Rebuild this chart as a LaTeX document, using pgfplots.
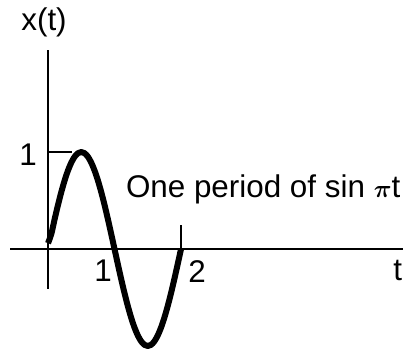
\documentclass[border=0pt]{standalone}
\usepackage{pgfplots}
\pgfplotsset{compat=1.18}
\usepackage{bm}
\usepackage{fontspec}
\setmainfont{Liberation Sans}

\begin{document}
\begin{tikzpicture}
\begin{axis}[
  x=66.5bp, y=97bp,
  axis lines=middle,
  xmin=-0.57, xmax=5.34,
  ymin=-0.41, ymax=2.05,
  ticks=none,
  clip=false,
  axis line style={line width=1.8bp, -},
  font=\fontsize{31.5}{36}\selectfont,
]
% one period of sin(pi t), sampled every 0.05
\addplot[black, line width=6bp, line join=round, smooth] coordinates {
  (0.00, 0.060) (0.05, 0.1564) (0.10, 0.3090) (0.15, 0.4540) (0.20, 0.5878)
  (0.25, 0.7071) (0.30, 0.8090) (0.35, 0.8910) (0.40, 0.9511) (0.45, 0.9877)
  (0.50, 1.0000) (0.55, 0.9877) (0.60, 0.9511) (0.65, 0.8910) (0.70, 0.8090)
  (0.75, 0.7071) (0.80, 0.5878) (0.85, 0.4540) (0.90, 0.3090) (0.95, 0.1564)
  (1.00, 0.0000) (1.05, -0.1564) (1.10, -0.3090) (1.15, -0.4540) (1.20, -0.5878)
  (1.25, -0.7071) (1.30, -0.8090) (1.35, -0.8910) (1.40, -0.9511) (1.45, -0.9877)
  (1.50, -1.0000) (1.55, -0.9877) (1.60, -0.9511) (1.65, -0.8910) (1.70, -0.8090)
  (1.75, -0.7071) (1.80, -0.5878) (1.85, -0.4540) (1.90, -0.3090) (1.95, -0.1564)
  (2.00, 0.0000)
};
% short marks at x = 1 and t = 2
\draw[line width=1.6bp] (axis cs:0,1) -- (axis cs:0.36,1);
\draw[line width=1.8bp] (axis cs:2,0) -- (axis cs:2,0.25);
% labels
\node at (axis cs:-0.06,2.34) {x(t)};
\node at (axis cs:-0.30,0.97) {1};
\node at (axis cs:0.83,-0.22) {1};
\node at (axis cs:2.24,-0.23) {2};
\node at (axis cs:5.26,-0.22) {t};
\node[anchor=base west, inner sep=0pt] at (axis cs:1.17,0.536) {One period of sin {\fontsize{36}{36}\selectfont$\bm{\pi}$}t};
% page frame
\coordinate (bl) at (axis cs:-0.722,-1.041);
\coordinate (tr) at (axis cs:5.383,2.567);
\end{axis}
\pgfresetboundingbox
\path (bl) rectangle (tr);
\end{tikzpicture}
\end{document}
